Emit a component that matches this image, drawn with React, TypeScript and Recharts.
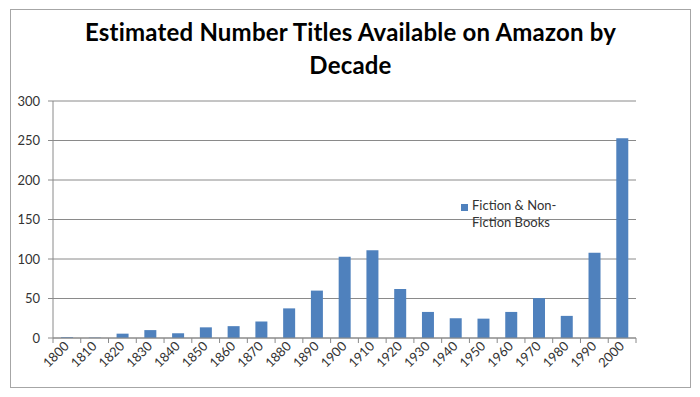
import React from 'react';
import {
  BarChart,
  Bar,
  XAxis,
  YAxis,
  CartesianGrid,
} from 'recharts';

const decades = [
  '1800', '1810', '1820', '1830', '1840', '1850', '1860', '1870', '1880', '1890', '1900',
  '1910', '1920', '1930', '1940', '1950', '1960', '1970', '1980', '1990', '2000',
];
const titles = [1, 0.5, 5.5, 10, 6, 13.5, 15, 21, 37.5, 60, 103, 111, 62, 33, 25, 24.5, 33, 50.5, 28, 108, 253];
const yTicks = [0, 50, 100, 150, 200, 250, 300];
const seriesName = 'Fiction & Non-Fiction Books';

const data = decades.map((decade, i) => ({ decade, titles: titles[i] }));

const FONT = 'Lato, "Open Sans", sans-serif';
const GRID = '#8a8a8a';
const BLUE = '#4f81bd';

// Excel puts the x ticks between categories, so draw them half a band off
const DecadeTick = (props: any) => {
  const { x, y, payload, index, visibleTicksCount } = props;
  const half = payload?.offset ?? 0;
  const isLast = index === visibleTicksCount - 1;
  return (
    <g>
      <line x1={x - half} x2={x - half} y1={y} y2={y + 5} stroke={GRID} />
      {isLast && <line x1={x + half} x2={x + half} y1={y} y2={y + 5} stroke={GRID} />}
      <text
        x={x + 3}
        y={y + 9}
        textAnchor="end"
        transform={`rotate(-45, ${x + 3}, ${y + 9})`}
        fontSize={13}
        fontFamily={FONT}
        fill="#333"
      >
        {payload.value}
      </text>
    </g>
  );
};

export default function App() {
  return (
    <div
      style={{
        position: 'absolute',
        left: 10,
        top: 9,
        width: 679,
        height: 377,
        border: '1px solid #a6a6a6',
        background: '#fff',
      }}
    >
      <div
        style={{
          position: 'absolute',
          left: 0,
          right: 0,
          top: 5,
          textAlign: 'center',
          fontFamily: FONT,
          fontWeight: 700,
          fontSize: 24,
          letterSpacing: 0.2,
          lineHeight: '33px',
          color: '#000',
        }}
      >
        Estimated Number Titles Available on Amazon by
        <br />
        Decade
      </div>
      <div style={{ position: 'absolute', left: 0, top: 0 }}>
        <BarChart
          width={679}
          height={377}
          data={data}
          margin={{ top: 91, right: 54, left: 0, bottom: 0 }}
          barCategoryGap="29%"
        >
          <CartesianGrid vertical={false} stroke={GRID} />
          <XAxis
            dataKey="decade"
            height={49}
            interval={0}
            tickSize={0}
            tickMargin={0}
            tickLine={false}
            axisLine={{ stroke: GRID }}
            tick={<DecadeTick />}
          />
          <YAxis
            width={42}
            domain={[0, 300]}
            ticks={yTicks}
            interval={0}
            tickSize={5}
            tickMargin={8}
            tickLine={{ stroke: GRID }}
            axisLine={{ stroke: GRID }}
            tick={{ fontSize: 13, fontFamily: FONT, fill: '#333' }}
          />
          <Bar dataKey="titles" name={seriesName} fill={BLUE} isAnimationActive={false} />
        </BarChart>
      </div>
      {/* legend sits inside the plot, like the Excel original */}
      <div
        style={{
          position: 'absolute',
          left: 450,
          top: 187,
          display: 'flex',
          alignItems: 'flex-start',
          fontFamily: FONT,
          fontSize: 13,
          color: '#333',
        }}
      >
        <div style={{ width: 7, height: 7, background: BLUE, marginTop: 7, marginRight: 4 }} />
        <div style={{ width: 92, lineHeight: '17px' }}>{seriesName}</div>
      </div>
    </div>
  );
}
